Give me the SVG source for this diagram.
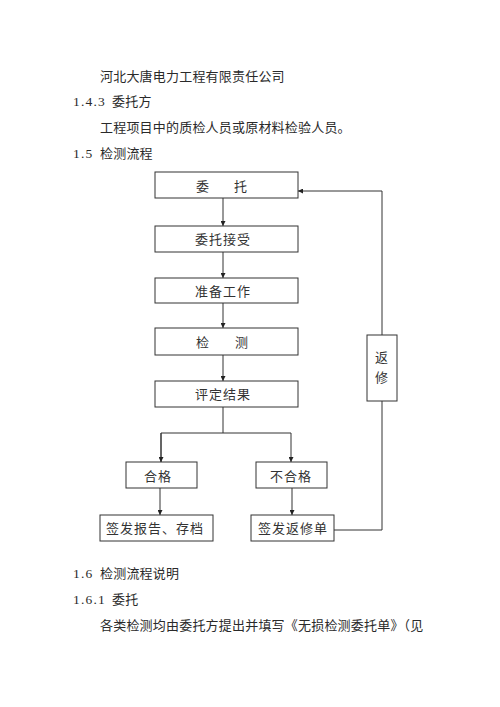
<svg xmlns="http://www.w3.org/2000/svg" width="500" height="707" viewBox="0 0 500 707">
<style>
.t{font-family:"Noto Sans CJK SC","Noto Sans",sans-serif;font-size:13px;fill:#2a2a2a;letter-spacing:0.2px}
.n{font-family:"Liberation Serif","Noto Sans CJK SC",serif;font-size:13.5px;fill:#2a2a2a;letter-spacing:1.2px}
.b{fill:#fff;stroke:#333;stroke-width:1}
.bt{font-family:"Noto Sans CJK SC","Noto Sans",sans-serif;font-size:13px;fill:#333;text-anchor:middle;letter-spacing:1px}
.c{fill:none;stroke:#333;stroke-width:1}
</style>
<defs>
<marker id="ah" viewBox="0 0 8 8" refX="8" refY="4" markerWidth="5" markerHeight="5" orient="auto" markerUnits="userSpaceOnUse">
<path d="M0,0 L8,4 L0,8 z" fill="#222"/>
</marker>
</defs>
<rect width="500" height="707" fill="#fff"/>
<g id="text">
<text class="t" x="100" y="81">河北大唐电力工程有限责任公司</text>
<text x="73" y="106"><tspan class="n">1.4.3</tspan><tspan class="t" x="112">委托方</tspan></text>
<text class="t" x="100" y="132">工程项目中的质检人员或原材料检验人员。</text>
<text x="73" y="158"><tspan class="n">1.5</tspan><tspan class="t" x="100">检测流程</tspan></text>
<text x="73" y="578"><tspan class="n">1.6</tspan><tspan class="t" x="100">检测流程说明</tspan></text>
<text x="73" y="604"><tspan class="n">1.6.1</tspan><tspan class="t" x="112">委托</tspan></text>
<text class="t" x="100" y="630">各类检测均由委托方提出并填写《无损检测委托单》（见</text>
</g>
<g id="connectors">
<line class="c" x1="223" y1="198" x2="223" y2="226" marker-end="url(#ah)"/>
<line class="c" x1="223" y1="252" x2="223" y2="278" marker-end="url(#ah)"/>
<line class="c" x1="223" y1="303" x2="223" y2="328" marker-end="url(#ah)"/>
<line class="c" x1="223" y1="355" x2="223" y2="381" marker-end="url(#ah)"/>
<line class="c" x1="223" y1="407" x2="223" y2="433"/>
<polyline class="c" points="161,462 161,433 291,433 291,462" marker-end="url(#ah)"/>
<line class="c" x1="161" y1="433" x2="161" y2="462" marker-end="url(#ah)"/>
<line class="c" x1="160" y1="488" x2="160" y2="515" marker-end="url(#ah)"/>
<line class="c" x1="292" y1="488" x2="292" y2="515" marker-end="url(#ah)"/>
<polyline class="c" points="334,530 382,530 382,401"/>
<polyline class="c" points="382,335 382,191 298,191" marker-end="url(#ah)"/>
</g>
<g id="n1"><rect class="b" x="155" y="172" width="143" height="26"/><text class="bt" x="222" y="191" letter-spacing="0"><tspan x="203">委</tspan><tspan x="241">托</tspan></text></g>
<g id="n2"><rect class="b" x="155" y="226" width="143" height="26"/><text class="bt" x="223" y="244">委托接受</text></g>
<g id="n3"><rect class="b" x="155" y="278" width="143" height="25"/><text class="bt" x="223" y="296">准备工作</text></g>
<g id="n4"><rect class="b" x="155" y="328" width="143" height="27"/><text class="bt" y="347" letter-spacing="0"><tspan x="203">检</tspan><tspan x="242">测</tspan></text></g>
<g id="n5"><rect class="b" x="155" y="381" width="143" height="26"/><text class="bt" x="223" y="399">评定结果</text></g>
<g id="n6"><rect class="b" x="126" y="462" width="71" height="26"/><text class="bt" x="158" y="481">合格</text></g>
<g id="n7"><rect class="b" x="256" y="462" width="71" height="26"/><text class="bt" x="291" y="481">不合格</text></g>
<g id="n8"><rect class="b" x="100" y="515" width="113" height="26"/><text class="bt" x="155" y="533">签发报告、存档</text></g>
<g id="n9"><rect class="b" x="251" y="515" width="83" height="26"/><text class="bt" x="293" y="533">签发返修单</text></g>
<g id="n10"><rect class="b" x="367" y="335" width="30" height="66"/><text class="bt" x="382" y="362" letter-spacing="0">返</text><text class="bt" x="382" y="382" letter-spacing="0">修</text></g>
</svg>
